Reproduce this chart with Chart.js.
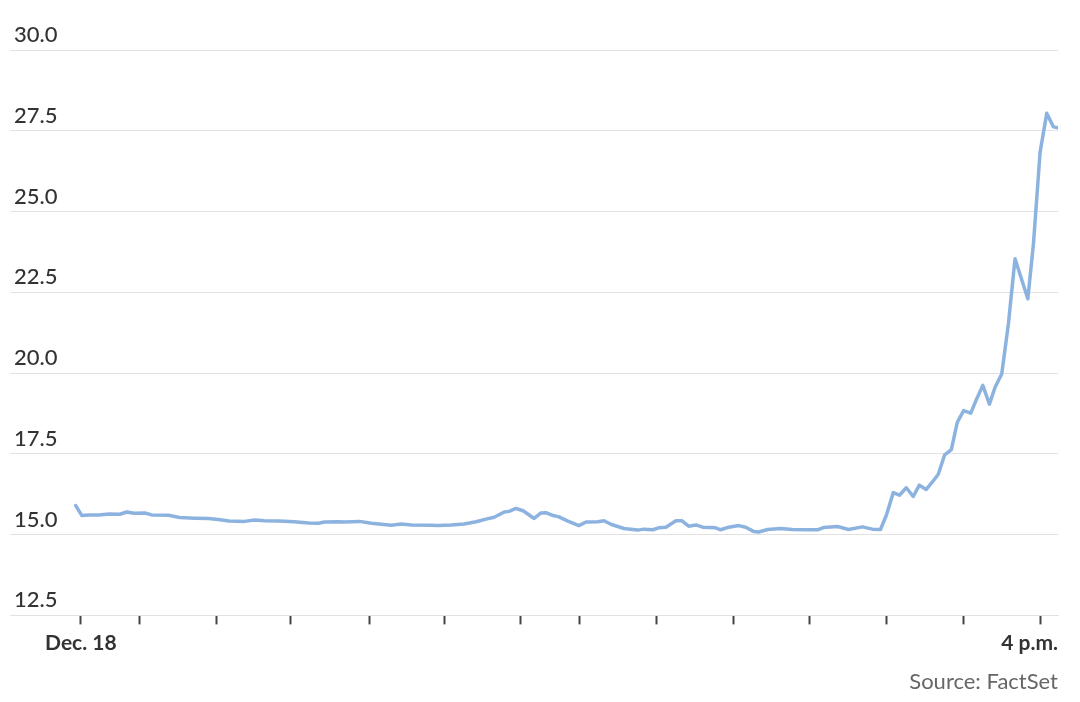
<!DOCTYPE html>
<html>
<head>
<meta charset="utf-8">
<script src="https://cdn.jsdelivr.net/npm/chart.js@4/dist/chart.umd.min.js"></script>
<style>
  html, body { margin: 0; padding: 0; background: #ffffff; }
  #wrap { width: 1080px; height: 702px; position: relative; }
</style>
</head>
<body>
<div id="wrap"><canvas id="c" width="1080" height="702"></canvas></div>
<script>
// x in trading-session units (approx. minutes from the "Dec. 18" tick), y = value
const timeX = [-2.0, 0.4, 3.1, 7.0, 10.9, 15.2, 18.0, 20.7, 25.0, 27.7, 34.3, 38.6, 44.5, 49.9, 53.8, 57.8, 64.0, 67.9, 71.8, 77.3, 83.5, 89.0, 92.9, 95.2, 100.7, 103.0, 108.9, 113.6, 121.4, 125.3, 129.2, 137.0, 139.7, 144.8, 149.8, 154.5, 158.4, 161.6, 165.5, 167.4, 170.1, 172.9, 177.2, 179.9, 181.8, 184.6, 186.9, 190.4, 194.7, 197.5, 202.1, 204.5, 207.2, 212.3, 217.7, 220.1, 223.6, 225.9, 228.7, 232.6, 234.9, 237.6, 240.4, 243.1, 248.2, 250.1, 253.3, 257.2, 259.9, 263.0, 265.0, 268.5, 273.5, 278.2, 284.1, 288.0, 290.3, 295.8, 300.1, 305.5, 309.4, 312.6, 314.9, 317.6, 320.0, 322.7, 325.4, 327.8, 330.5, 332.9, 335.2, 337.7, 340.3, 342.6, 345.1, 347.9, 350.2, 352.6, 355.2, 357.4, 360.0, 362.6, 365.2, 370.2, 372.4, 375.0, 377.6, 380.2, 382.0];
const values = [15.90, 15.59, 15.61, 15.61, 15.64, 15.63, 15.70, 15.66, 15.67, 15.61, 15.60, 15.53, 15.51, 15.50, 15.47, 15.42, 15.41, 15.45, 15.43, 15.42, 15.40, 15.36, 15.35, 15.39, 15.40, 15.39, 15.41, 15.35, 15.29, 15.33, 15.30, 15.29, 15.28, 15.30, 15.33, 15.40, 15.48, 15.54, 15.70, 15.72, 15.81, 15.74, 15.50, 15.67, 15.68, 15.59, 15.55, 15.42, 15.28, 15.39, 15.40, 15.43, 15.32, 15.19, 15.14, 15.17, 15.15, 15.21, 15.23, 15.43, 15.43, 15.26, 15.30, 15.23, 15.21, 15.15, 15.23, 15.28, 15.23, 15.10, 15.08, 15.16, 15.19, 15.16, 15.15, 15.15, 15.22, 15.25, 15.16, 15.24, 15.17, 15.16, 15.60, 16.30, 16.22, 16.45, 16.18, 16.53, 16.40, 16.63, 16.87, 17.47, 17.63, 18.47, 18.84, 18.76, 19.20, 19.62, 19.04, 19.56, 19.97, 21.52, 23.54, 22.30, 24.00, 26.84, 28.04, 27.62, 27.59];

// x-axis ticks (half-hour marks) and their labels
const xTicks = [0, 23, 53, 82, 113, 142, 172, 195, 225, 255, 285, 315, 345, 375];
const xTickLabels = ['Dec. 18', '', '', '', '', '', '', '', '', '', '', '', '', ''];
const lastLabel = '4 p.m.';
const xMin = -27.7, xMax = 382;

// y-axis
const yMin = 12.5, yMax = 30, yStep = 2.5;
const sourceText = 'Source: FactSet';

const points = timeX.map((x, i) => ({ x: x, y: values[i] }));

// full tick list: invisible edge ticks let the last label sit flush right
const allTicks = [xMin].concat(xTicks, [xMax]);
const allLabels = [''].concat(xTickLabels, [lastLabel]);

new Chart(document.getElementById('c'), {
  type: 'line',
  data: {
    datasets: [{
      data: points,
      borderColor: '#8cb3e0',
      borderWidth: 3.5,
      pointRadius: 0,
      tension: 0,
      borderJoinStyle: 'round',
      borderCapStyle: 'round',
      fill: false
    }]
  },
  options: {
    responsive: false,
    animation: false,
    devicePixelRatio: 1,
    layout: { padding: { left: 2, right: 22, top: 50, bottom: 7 } },
    plugins: {
      legend: { display: false },
      tooltip: { enabled: false },
      title: {
        display: true,
        text: sourceText,
        position: 'bottom',
        align: 'end',
        color: '#666666',
        font: { family: 'Lato', size: 22, weight: '400' },
        padding: { top: 7, bottom: 0 }
      }
    },
    scales: {
      x: {
        type: 'linear',
        min: xMin,
        max: xMax,
        afterBuildTicks: (scale) => { scale.ticks = allTicks.map(v => ({ value: v })); },
        ticks: {
          autoSkip: false,
          maxRotation: 0,
          minRotation: 0,
          align: 'inner',
          padding: 6,
          color: '#333333',
          font: { family: 'Lato', size: 21, weight: '700' },
          callback: (val, idx) => allLabels[idx]
        },
        grid: {
          drawOnChartArea: false,
          drawTicks: true,
          tickLength: 9,
          tickWidth: 2,
          tickColor: (ctx) => (ctx.index === 0 || ctx.index === allTicks.length - 1) ? 'rgba(0,0,0,0)' : '#444444'
        },
        border: { display: true, color: '#e2e2e2', width: 1 }
      },
      y: {
        min: yMin,
        max: yMax,
        ticks: {
          stepSize: yStep,
          mirror: true,
          labelOffset: -15,
          padding: 4,
          color: '#333333',
          font: { family: 'Lato', size: 22, weight: '500' },
          callback: (v) => Number(v).toFixed(1)
        },
        grid: {
          color: '#e2e2e2',
          lineWidth: 1,
          drawTicks: false
        },
        border: { display: false }
      }
    }
  }
});
</script>
</body>
</html>
